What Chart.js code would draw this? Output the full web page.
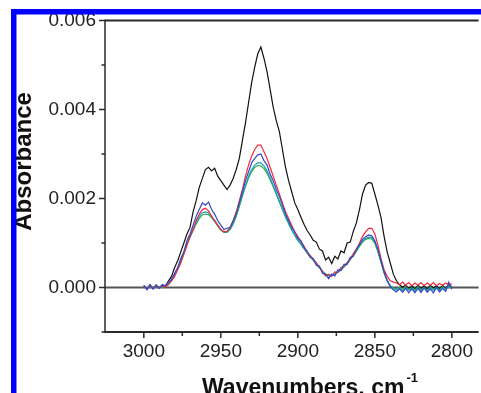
<!DOCTYPE html>
<html>
<head>
<meta charset="utf-8">
<script src="https://cdn.jsdelivr.net/npm/chart.js@4/dist/chart.umd.min.js"></script>
<style>
  html, body { margin: 0; padding: 0; background: #fff; }
  canvas { display: block; }
</style>
</head>
<body>
<canvas id="chartIR" width="481" height="393"></canvas>
<script>
// wavenumbers, cm-1 (2 cm-1 steps)
const wavenumbers = [
  3000, 2998, 2996, 2994, 2992, 2990, 2988, 2986, 2984, 2982,
  2980, 2978, 2976, 2974, 2972, 2970, 2968, 2966, 2964, 2962,
  2960, 2958, 2956, 2954, 2952, 2950, 2948, 2946, 2944, 2942,
  2940, 2938, 2936, 2934, 2932, 2930, 2928, 2926, 2924, 2922,
  2920, 2918, 2916, 2914, 2912, 2910, 2908, 2906, 2904, 2902,
  2900, 2898, 2896, 2894, 2892, 2890, 2888, 2886, 2884, 2882,
  2880, 2878, 2876, 2874, 2872, 2870, 2868, 2866, 2864, 2862,
  2860, 2858, 2856, 2854, 2852, 2850, 2848, 2846, 2844, 2842,
  2840, 2838, 2836, 2834, 2832, 2830, 2828, 2826, 2824, 2822,
  2820, 2818, 2816, 2814, 2812, 2810, 2808, 2806, 2804, 2802,
  2800
];

// absorbance values, in units of 1e-4
const absBlack = [
  0.4, -0.4, 0.6, -0.2, 0.5, -0.1, 0.6, 0.3, 1.5, 2.5,
  4.5, 6, 8, 10, 12, 13.5, 17, 19.5, 22.5, 24.5,
  26.5, 27, 26.2, 26.8, 25, 24, 23, 22, 23, 24.5,
  26.5, 29, 33, 37, 41.5, 46, 49.5, 52.5, 54, 51.5,
  48.5, 44.5, 40.5, 37.5, 35, 31, 27, 24, 21.5, 19,
  17.5, 15.8, 14.2, 12.8, 11.8, 10.6, 10.2, 8.6, 8.2, 6.2,
  6.8, 5.4, 7, 6.4, 8.2, 7.8, 10, 10.2, 12.6, 14.5,
  17.5, 21, 23, 23.6, 23.4, 21, 18.5, 15.7, 11.5, 8,
  5.5, 3, 1.5, 0.6, 0.1, 0.5, -0.2, 0.4, -0.3, 0.5,
  -0.2, 0.4, -0.3, 0.5, -0.1, 0.4, -0.3, 0.5, -0.2, 0.6,
  0
];
const absRed = [
  0.3, -0.3, 0.5, -0.2, 0.4, 0, 0.3, 0.2, 0.6, 1.5,
  2.5, 4, 5.5, 7.5, 9.5, 11.5, 13, 15, 16.5, 17.5,
  17.8, 17.2, 16, 15, 14, 13, 12.5, 12.6, 13.5, 15,
  17, 19.5, 22, 25, 27.5, 29.5, 31, 32, 32, 30.5,
  29, 27, 25, 23, 21, 19, 17, 15.5, 14, 12.5,
  11.5, 10.3, 9.3, 8, 7.2, 6.3, 5.6, 4.6, 3.6, 2.6,
  3, 2.5, 3.5, 3.4, 4.5, 4.8, 5.6, 6.4, 7.6, 8.6,
  10, 11.5, 12.5, 13.3, 13.3, 12, 9.5, 6.5, 4, 2.5,
  1.5, 1.2, 1, 0.6, 1.2, 0.5, 1.1, 0.4, 1, 0.5,
  1.1, 0.4, 1, 0.5, 1.1, 0.4, 0.9, 0.5, 1, 0.6,
  0.8
];
const absBlue = [
  0.5, -0.5, 0.6, -0.4, 0.6, -0.2, 0.6, 0.4, 1.2, 1.8,
  3.2, 4.5, 6.5, 8, 10.5, 12, 14, 16, 17.5, 19,
  18.5, 19.2, 17.5, 16.5, 15, 14, 13, 13.3, 13.5, 15,
  16.5, 19, 21.5, 24, 26, 28, 29, 29.8, 30, 28.5,
  27.5, 25.5, 24, 22, 20.5, 18.5, 16.5, 15, 13.5, 12.5,
  11, 10.5, 9, 8.2, 6.8, 6.5, 5, 4.8, 3.2, 3,
  2, 3, 2.6, 4, 3.8, 5.2, 5.2, 6.8, 7, 8.6,
  9.6, 10.8, 11.4, 11.8, 11.6, 10.5, 8.5, 6, 3.5, 1.5,
  0.2, -0.5, -1, -0.3, -1.1, -0.2, -1.2, -0.3, -1.2, -0.2,
  -1.1, -0.1, -1.1, -0.3, -1.2, 0, -1, -0.2, -0.9, 1.2,
  -0.4
];
const absTeal = [
  0.2, -0.2, 0.3, 0, 0.3, 0, 0.2, 0.3, 1, 1.8,
  3, 4.3, 6, 7.8, 9.8, 11.5, 13.2, 14.8, 16, 16.8,
  17, 16.8, 16, 15, 14, 13, 12.5, 12.6, 13.2, 14.5,
  16.3, 18.5, 20.8, 23, 25, 26.5, 27.5, 28, 28, 27.3,
  26.2, 24.7, 23, 21.2, 19.5, 17.7, 16, 14.5, 13, 11.8,
  10.7, 9.8, 8.8, 7.8, 7, 6.2, 5.2, 4.5, 3.6, 3,
  2.6, 2.8, 3, 3.5, 4, 4.8, 5.5, 6.4, 7.3, 8.3,
  9.4, 10.4, 11, 11.3, 11.2, 10.2, 8.3, 5.8, 3.4, 1.6,
  0.4, -0.2, -0.6, -0.1, -0.7, 0, -0.6, -0.2, -0.8, 0,
  -0.7, -0.1, -0.8, 0, -0.6, -0.1, -0.7, 0, -0.5, 0.3,
  -0.2
];
const absGreen = [
  0.1, -0.1, 0.2, 0, 0.2, 0.1, 0.1, 0.2, 0.8, 1.6,
  2.8, 4.2, 5.8, 7.6, 9.6, 11.2, 12.8, 14.3, 15.5, 16.3,
  16.5, 16.4, 15.7, 14.8, 13.8, 12.9, 12.4, 12.4, 13, 14.2,
  16, 18.2, 20.5, 22.7, 24.6, 26, 27, 27.4, 27.3, 26.7,
  25.7, 24.2, 22.6, 20.9, 19.2, 17.5, 15.8, 14.3, 12.9, 11.7,
  10.6, 9.7, 8.7, 7.8, 6.9, 6.1, 5.2, 4.4, 3.6, 3,
  2.6, 2.7, 3, 3.4, 3.9, 4.6, 5.3, 6.2, 7.1, 8.1,
  9.2, 10.2, 10.8, 11, 10.9, 9.9, 8, 5.6, 3.2, 1.5,
  0.4, -0.1, -0.4, 0, -0.5, 0.1, -0.4, -0.1, -0.5, 0.1,
  -0.5, 0, -0.6, 0.1, -0.4, 0, -0.5, 0.1, -0.3, 0.2,
  0
];

const xTickLabels = [3000, 2950, 2900, 2850, 2800];
const xMinorTicks = [2975, 2925, 2875, 2825];
const yTickLabels = [0, 0.002, 0.004, 0.006];
const yMinorTicks = [-0.001, 0.001, 0.003, 0.005];

const FONT = "'Liberation Sans', Arial, sans-serif";

function toPoints(vals) {
  return vals.map((v, i) => ({ x: wavenumbers[i], y: v / 10000 }));
}

const framePlugin = {
  id: "frame",
  beforeDatasetsDraw(chart) {
    const { ctx, chartArea: a, scales: { y } } = chart;
    const y0 = y.getPixelForValue(0);
    ctx.save();
    ctx.strokeStyle = "#555";
    ctx.lineWidth = 2;
    ctx.beginPath();
    ctx.moveTo(a.left, y0);
    ctx.lineTo(a.right, y0);
    ctx.stroke();
    ctx.restore();
  },
  afterDatasetsDraw(chart) {
    const { ctx, chartArea: a, scales: { x, y } } = chart;
    ctx.save();
    ctx.strokeStyle = "#2a2a2a";
    ctx.lineWidth = 2;
    ctx.beginPath();
    ctx.moveTo(a.left, a.top);
    ctx.lineTo(a.right, a.top);
    ctx.moveTo(a.left, a.bottom);
    ctx.lineTo(a.right, a.bottom);
    ctx.stroke();
    ctx.lineWidth = 1.5;
    ctx.beginPath();
    ctx.moveTo(a.left, a.top - 1);
    ctx.lineTo(a.left, a.bottom + 1);
    // tick marks
    yTickLabels.forEach(v => {
      const p = y.getPixelForValue(v);
      ctx.moveTo(a.left - 6, p);
      ctx.lineTo(a.left, p);
    });
    yMinorTicks.forEach(v => {
      const p = y.getPixelForValue(v);
      ctx.moveTo(a.left - 3.5, p);
      ctx.lineTo(a.left, p);
    });
    xTickLabels.forEach(v => {
      const p = x.getPixelForValue(v);
      ctx.moveTo(p, a.bottom);
      ctx.lineTo(p, a.bottom + 6);
    });
    xMinorTicks.forEach(v => {
      const p = x.getPixelForValue(v);
      ctx.moveTo(p, a.bottom);
      ctx.lineTo(p, a.bottom + 4);
    });
    ctx.stroke();
    ctx.restore();
  },
  afterDraw(chart) {
    const ctx = chart.ctx;
    ctx.save();
    ctx.fillStyle = "#111";
    // y title
    ctx.save();
    ctx.translate(31, 161.5);
    ctx.rotate(-Math.PI / 2);
    ctx.font = "bold 24px " + FONT;
    ctx.textAlign = "center";
    ctx.textBaseline = "alphabetic";
    ctx.fillText("Absorbance", 0, 0);
    ctx.restore();
    // x title with superscript
    ctx.font = "bold 23px " + FONT;
    ctx.textAlign = "left";
    ctx.textBaseline = "alphabetic";
    const main = "Wavenumbers, cm";
    ctx.fillText(main, 202, 394.5);
    const w = ctx.measureText(main).width;
    ctx.font = "bold 13px " + FONT;
    ctx.fillText("-1", 202 + w + 2, 382);
    // blue frame
    ctx.fillStyle = "#0000ff";
    ctx.fillRect(11, 9, 470, 5.5);
    ctx.fillRect(11, 9, 5.5, 384);
    ctx.restore();
  }
};

const lineStyle = { borderWidth: 1.2, pointRadius: 0, tension: 0, fill: false };

const chartIR = new Chart(document.getElementById("chartIR"), {
  type: "line",
  data: {
    datasets: [
      { label: "blue", data: toPoints(absBlue), borderColor: "#3a46c8", order: 0, ...lineStyle },
      { label: "red", data: toPoints(absRed), borderColor: "#ee2b3c", order: 1, ...lineStyle },
      { label: "teal", data: toPoints(absTeal), borderColor: "#1fa3a8", order: 2, ...lineStyle },
      { label: "green", data: toPoints(absGreen), borderColor: "#1aae4e", order: 3, ...lineStyle },
      { label: "black", data: toPoints(absBlack), borderColor: "#111111", order: 4, ...lineStyle }
    ]
  },
  options: {
    responsive: false,
    animation: false,
    events: [],
    layout: { padding: { top: 19, right: 0, bottom: 0, left: 0 } },
    plugins: { legend: { display: false }, tooltip: { enabled: false } },
    scales: {
      x: {
        type: "linear",
        reverse: true,
        min: 2782.6,
        max: 3025.2,
        afterBuildTicks: s => { s.ticks = xTickLabels.map(v => ({ value: v })); },
        afterFit: s => { s.height = 61; },
        grid: { display: false, drawTicks: false },
        border: { display: false },
        ticks: {
          padding: 8, color: "#222", maxRotation: 0, autoSkip: false,
          font: { family: FONT, size: 19 },
          callback: v => String(v)
        }
      },
      y: {
        min: -0.001,
        max: 0.006,
        afterBuildTicks: s => { s.ticks = yTickLabels.map(v => ({ value: v })); },
        afterFit: s => { s.width = 105; },
        grid: { display: false, drawTicks: false },
        border: { display: false },
        ticks: {
          padding: 9, color: "#222",
          font: { family: FONT, size: 19 },
          callback: v => v.toFixed(3)
        }
      }
    }
  },
  plugins: [framePlugin]
});
</script>
</body>
</html>
